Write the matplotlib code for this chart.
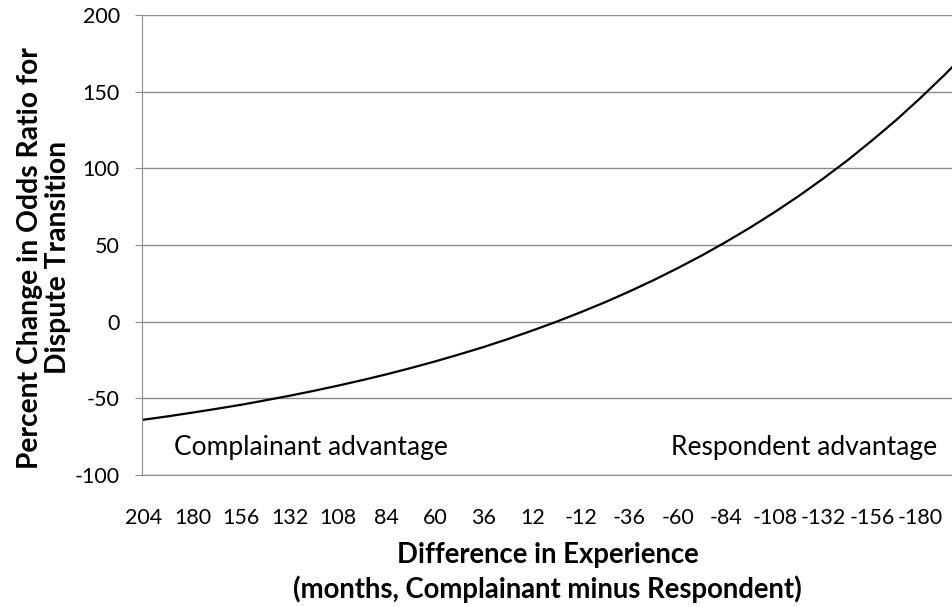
import matplotlib
matplotlib.use("Agg")
import matplotlib.pyplot as plt
import numpy as np

# data (months difference vs % change)
diff_months = [204, 192, 180, 168, 156, 144, 132, 120, 108, 96, 84, 72, 60, 48, 36, 24, 12,
               0, -12, -24, -36, -48, -60, -72, -84, -96, -108, -120, -132, -144, -156,
               -168, -180, -192, -204]
pct_change = [-63.9, -61.7, -59.3, -56.8, -54.2, -51.3, -48.3, -45.1, -41.7, -38.1, -34.3,
              -30.2, -25.9, -21.3, -16.5, -11.3, -5.8, 0.0, 6.2, 12.7, 19.7, 27.1, 35.0,
              43.3, 52.2, 61.6, 71.6, 82.2, 93.5, 105.4, 118.2, 131.6, 146.0, 161.2, 177.3]
x_ticks = [204, 180, 156, 132, 108, 84, 60, 36, 12, -12, -36, -60, -84, -108, -132, -156, -180]
y_ticks = [-100, -50, 0, 50, 100, 150, 200]

plt.rcParams["font.family"] = ["Lato", "DejaVu Sans"]
plt.rcParams["axes.unicode_minus"] = False

fig = plt.figure(figsize=(9.53, 6.07), dpi=100)
ax = fig.add_axes([142/953, 1 - 475/607, (953 - 142)/953, (475 - 15)/607])

GRID = "#8c8c8c"
ax.plot(diff_months, pct_change, color="black", lw=1.6, zorder=3)

ax.set_xlim(205, -196)
ax.set_ylim(-100, 200)
ax.set_xticks(x_ticks)
ax.set_xticklabels([str(t) for t in x_ticks])
ax.set_yticks(y_ticks)
ax.grid(axis="y", color=GRID, lw=1.0, zorder=0)

for s in ["top", "right"]:
    ax.spines[s].set_visible(False)
ax.spines["left"].set_color(GRID)
ax.spines["bottom"].set_color(GRID)
ax.tick_params(axis="y", length=5, color=GRID, labelsize=15.5, pad=11)
ax.tick_params(axis="x", length=0, labelsize=15.5, pad=24)

ax.text(189, -82, "Complainant advantage", ha="left", va="center", fontsize=19)
ax.text(-188, -82, "Respondent advantage", ha="right", va="center", fontsize=19)

ax.set_ylabel("Percent Change in Odds Ratio for\nDispute Transition",
              fontsize=20.3, fontweight="bold", linespacing=1.1)
ax.yaxis.set_label_coords(-0.088, 0.472)
ax.set_xlabel("Difference in Experience\n(months, Complainant minus Respondent)",
              fontsize=19.8, fontweight="bold", labelpad=10, linespacing=1.3)

fig.savefig("out.png", dpi=100, facecolor="white")
